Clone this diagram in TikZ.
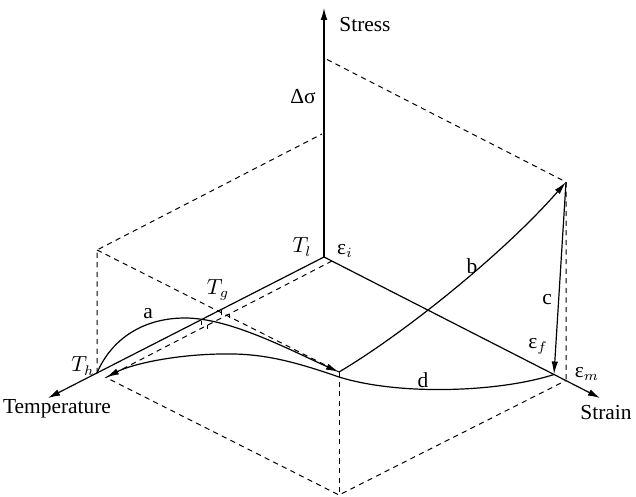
\documentclass[tikz,border=0pt]{standalone}
\usepackage{fontspec}
\setmainfont{Liberation Serif}
\newfontfamily\libserif{Liberation Serif}
\usetikzlibrary{arrows.meta}
\begin{document}
\begin{tikzpicture}[x=0.5pt,y=-0.5pt,
  axis/.style={line width=0.6pt,-{Latex[length=6pt,width=3.4pt]}},
  dsh/.style={line width=0.5pt,dash pattern=on 2.6pt off 2.2pt},
  arr/.style={line width=0.6pt,-{Latex[length=6.5pt,width=3.2pt]}},
  tick/.style={line width=0.5pt},
  lbl/.style={inner sep=0pt,font=\libserif\fontsize{10.7}{12}\selectfont}]
\useasboundingbox (0,0) rectangle (636,497);
% key points
\coordinate (O) at (324,257);
\coordinate (StressTip) at (324,8);
\coordinate (TempTip) at (48,398);
\coordinate (StrainTip) at (600,398);
\coordinate (Th) at (97,373);
\coordinate (Ei) at (332,261);
\coordinate (P) at (106,377.5);
\coordinate (M) at (339,372);
\coordinate (Em) at (566,380.5);
\coordinate (Ef) at (554,374.5);
\coordinate (U) at (566,182);
\coordinate (B) at (339,495);
\coordinate (C1) at (97,250);
\coordinate (S1) at (322,134);
\coordinate (S2) at (327,59.5);
\coordinate (Apk) at (185,318);
\coordinate (Dm) at (339,377);
\coordinate (Dpk) at (220,354);
% axes
\draw[axis] (O) -- (StressTip);
\draw[axis] (O) -- (TempTip);
\draw[axis] (O) -- (StrainTip);
% dashed frame
\draw[dsh] (Th) -- (C1) -- (S1);
\draw[dsh] (C1) -- (M);
\draw[dsh] (S2) -- (U) -- (Em);
\draw[dsh] (Ei) -- (P) -- (B) -- (Em);
\draw[dsh] (M) -- (B);
% ticks near T_g
\coordinate (k1) at (201,320.5); \coordinate (k1b) at (201,325);
\coordinate (k2) at (221,310.3); \coordinate (k2b) at (221,314.6);
\coordinate (k3) at (207,324.5); \coordinate (k3b) at (207,328.5);
\coordinate (k4) at (229,313.5); \coordinate (k4b) at (229,317.8);
\draw[tick] (k1) -- (k1b);
\draw[tick] (k2) -- (k2b);
\draw[tick] (k3) -- (k3b);
\draw[tick] (k4) -- (k4b);
% curve a
\draw[arr] (Th) .. controls (110,342) and (140,318) .. (Apk)
  .. controls (230,318) and (290,350) .. (M);
% curve b
\draw[arr] (M) .. controls (405,333) and (505,252) .. (U);
% c
\draw[arr] (U) -- (Ef);
% d
\draw[arr] (Ef) .. controls (500,392) and (400,396) .. (Dm)
  .. controls (290,360) and (260,353) .. (Dpk)
  .. controls (170,355) and (130,365) .. (P);
% labels
\node[lbl] (lstress) at (365,25) {Stress};
\node[lbl] (ldsig) at (303,97) {Δσ};
\node[lbl] (lTl) at (302,247) {$T_l$};
\node[lbl] (lei) at (345,251) {ε$_i$};
\node[lbl] (lTg) at (218,290) {$T_g$};
\node[lbl] (la) at (148,314) {a};
\node[lbl] (lTh) at (83,366) {$T_h$};
\node[lbl] (ltemp) at (57,409) {Temperature};
\node[lbl] (lstrain) at (606,413) {Strain};
\node[lbl] (lem) at (587,374) {ε$_m$};
\node[lbl] (lef) at (538,346) {ε$_f$};
\node[lbl] (lc) at (547,300) {c};
\node[lbl] (lb) at (472,266) {b};
\node[lbl] (ld) at (423,380) {d};
\end{tikzpicture}
\end{document}
